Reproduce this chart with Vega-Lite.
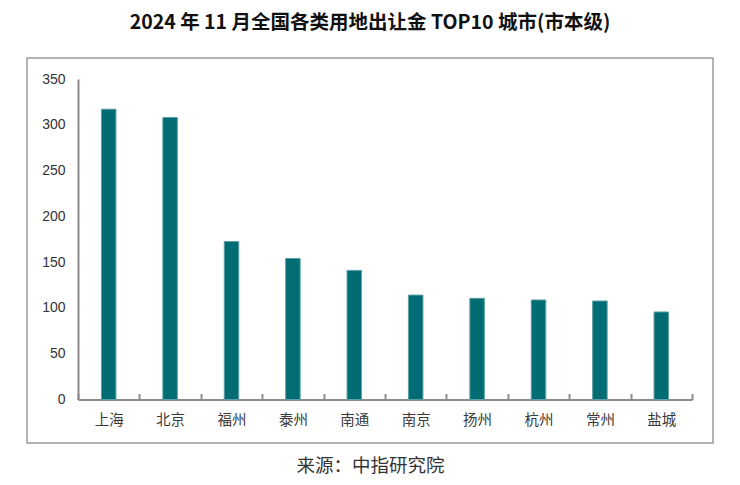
{
  "$schema": "https://vega.github.io/schema/vega-lite/v6.json",
  "width": 686,
  "height": 385,
  "autosize": "none",
  "padding": {"left": 27, "top": 58, "right": 27, "bottom": 42},
  "background": "#ffffff",
  "title": {
    "text": "2024 年 11 月全国各类用地出让金 TOP10 城市(市本级)",
    "font": "Noto Sans CJK SC",
    "fontSize": 19.5,
    "fontWeight": "bold",
    "color": "#111111",
    "anchor": "middle",
    "baseline": "bottom",
    "offset": 6
  },
  "data": {
    "values": [
      {"city": "上海", "value": 317},
      {"city": "北京", "value": 308},
      {"city": "福州", "value": 172.5},
      {"city": "泰州", "value": 154},
      {"city": "南通", "value": 141},
      {"city": "南京", "value": 114},
      {"city": "扬州", "value": 110.5},
      {"city": "杭州", "value": 108.7},
      {"city": "常州", "value": 107.6},
      {"city": "盐城", "value": 95.6}
    ]
  },
  "mark": {"type": "bar", "width": 14.5, "fill": "#016c74", "stroke": "#5d9fa4", "strokeWidth": 1},
  "encoding": {
    "x": {
      "field": "city",
      "type": "nominal",
      "sort": null,
      "scale": {"range": [51, 665], "paddingInner": 0, "paddingOuter": 0},
      "axis": {
        "offset": -43.5,
        "labelAngle": 0,
        "labelFont": "Noto Sans CJK SC",
        "labelFontSize": 14.5,
        "labelColor": "#3a3a3a",
        "labelPadding": 20,
        "domainColor": "#8c8c8c",
        "domainWidth": 2,
        "tickColor": "#8c8c8c",
        "tickWidth": 2,
        "tickSize": -6,
        "tickBand": "extent",
        "grid": false,
        "title": "来源：中指研究院",
        "titleFont": "Noto Sans CJK SC",
        "titleFontSize": 18.5,
        "titleFontWeight": "normal",
        "titleColor": "#333333",
        "titleBaseline": "middle",
        "titleAlign": "center",
        "titleX": 343,
        "titleY": 66
      }
    },
    "y": {
      "field": "value",
      "type": "quantitative",
      "scale": {"domain": [0, 350], "nice": false, "range": [341.5, 21]},
      "axis": {
        "offset": -51,
        "values": [0, 50, 100, 150, 200, 250, 300, 350],
        "ticks": false,
        "labelPadding": 13,
        "labelFont": "Liberation Sans",
        "labelFontSize": 14,
        "labelColor": "#333333",
        "domainColor": "#8c8c8c",
        "domainWidth": 2,
        "grid": false,
        "title": null
      }
    }
  },
  "config": {
    "view": {"stroke": "#9a9a9a", "strokeWidth": 1.5}
  }
}
